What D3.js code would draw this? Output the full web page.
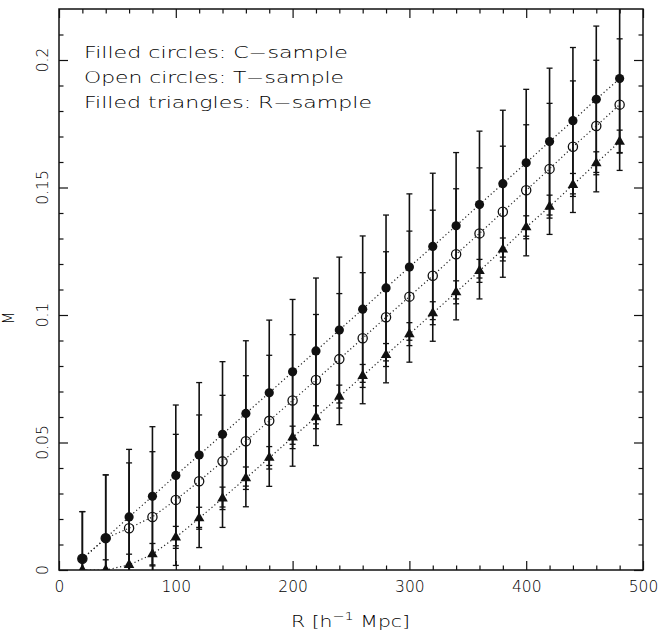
<!DOCTYPE html>
<html>
<head>
<meta charset="utf-8">
<script src="https://cdn.jsdelivr.net/npm/d3@7/dist/d3.min.js"></script>
<style>
  html, body { margin: 0; padding: 0; background: #fff; }
  svg { display: block; }
  text { font-family: "DejaVu Sans ExtraLight", "DejaVu Sans", sans-serif; font-weight: 200; fill: #000; }
</style>
</head>
<body>
<script>
// Radial distance R (h^-1 Mpc) at which each M value is measured
const radii = [20, 40, 60, 80, 100, 120, 140, 160, 180, 200, 220, 240,
               260, 280, 300, 320, 340, 360, 380, 400, 420, 440, 460, 480];

// C-sample (filled circles)
const cValues = [0.0044, 0.0125, 0.0208, 0.0289, 0.0371, 0.0451, 0.0532, 0.0614,
                 0.0695, 0.0777, 0.0859, 0.0941, 0.1023, 0.1106, 0.1188, 0.1269,
                 0.1350, 0.1433, 0.1515, 0.1597, 0.1680, 0.1762, 0.1846, 0.1927];
const cErrors = [0.0185, 0.0248, 0.0265, 0.0273, 0.0276, 0.0284, 0.0285, 0.0285,
                 0.0285, 0.0284, 0.0286, 0.0286, 0.0287, 0.0286, 0.0287, 0.0287,
                 0.0287, 0.0288, 0.0288, 0.0288, 0.0288, 0.0287, 0.0287, 0.0290];

// T-sample (open circles)
const tValues = [0.0044, 0.0125, 0.0164, 0.0208, 0.0275, 0.0348, 0.0426, 0.0505,
                 0.0585, 0.0665, 0.0745, 0.0827, 0.0909, 0.0991, 0.1072, 0.1154,
                 0.1238, 0.1320, 0.1405, 0.1489, 0.1573, 0.1660, 0.1741, 0.1825];
const tErrors = [0.0185, 0.0248, 0.0256, 0.0256, 0.0257, 0.0260, 0.0259, 0.0257,
                 0.0257, 0.0258, 0.0257, 0.0257, 0.0257, 0.0257, 0.0257, 0.0257,
                 0.0257, 0.0257, 0.0257, 0.0257, 0.0257, 0.0258, 0.0258, 0.0258];

// R-sample (filled triangles)
const rValues = [0.0000, 0.0000, 0.0020, 0.0062, 0.0128, 0.0203, 0.0281, 0.0360,
                 0.0440, 0.0520, 0.0599, 0.0680, 0.0761, 0.0843, 0.0925, 0.1007,
                 0.1089, 0.1173, 0.1257, 0.1344, 0.1425, 0.1510, 0.1595, 0.1680];
const rErrors = [0.0040, 0.0040, 0.0042, 0.0042, 0.0043, 0.0043, 0.0044, 0.0044,
                 0.0044, 0.0044, 0.0045, 0.0045, 0.0045, 0.0045, 0.0045, 0.0045,
                 0.0045, 0.0045, 0.0045, 0.0045, 0.0045, 0.0045, 0.0045, 0.0045];

// Axis ticks
const xMajorTicks = [0, 100, 200, 300, 400, 500];
const xMinorTicks = [20, 40, 60, 80, 120, 140, 160, 180, 220, 240, 260, 280,
                     320, 340, 360, 380, 420, 440, 460, 480];
const yMajorTicks = [0, 0.05, 0.1, 0.15, 0.2];
const yTickLabels = ["0", "0.05", "0.1", "0.15", "0.2"];
const yMinorTicks = [0.01, 0.02, 0.03, 0.04, 0.06, 0.07, 0.08, 0.09, 0.11, 0.12,
                     0.13, 0.14, 0.16, 0.17, 0.18, 0.19, 0.21];

const legendLines = ["Filled circles: C\u2212sample",
                     "Open circles: T\u2212sample",
                     "Filled triangles: R\u2212sample"];

const W = 662, H = 641;
const plot = { left: 59, right: 643, top: 9, bottom: 570 };

const svg = d3.select("body").append("svg")
  .attr("width", W).attr("height", H);

const x = d3.scaleLinear().domain([0, 500]).range([plot.left, plot.right]);
const y = d3.scaleLinear().domain([0, 0.22]).range([plot.bottom, plot.top]);

svg.append("clipPath").attr("id", "plotClip")
  .append("rect")
  .attr("x", plot.left).attr("y", plot.top)
  .attr("width", plot.right - plot.left).attr("height", plot.bottom - plot.top);

const samples = [
  { key: "C", values: cValues, errors: cErrors },
  { key: "T", values: tValues, errors: tErrors },
  { key: "R", values: rValues, errors: rErrors }
];

const data = samples.map(s => ({
  key: s.key,
  points: radii.map((r, i) => ({ r, v: s.values[i], e: s.errors[i] }))
}));

const g = svg.append("g").attr("clip-path", "url(#plotClip)");

// Error bars with end caps
const capHalf = 3;
data.forEach(s => {
  const bars = g.append("g").attr("class", "errors-" + s.key)
    .attr("stroke", "#111").attr("fill", "none");
  bars.selectAll("line.stem").data(s.points).join("line")
    .attr("class", "stem")
    .attr("x1", d => x(d.r)).attr("x2", d => x(d.r))
    .attr("y1", d => y(d.v - d.e)).attr("y2", d => y(d.v + d.e))
    .attr("stroke-width", 1.6);
  bars.selectAll("line.capTop").data(s.points).join("line")
    .attr("class", "capTop")
    .attr("x1", d => x(d.r) - capHalf).attr("x2", d => x(d.r) + capHalf)
    .attr("y1", d => y(d.v + d.e)).attr("y2", d => y(d.v + d.e))
    .attr("stroke-width", 1.3);
  bars.selectAll("line.capBot").data(s.points).join("line")
    .attr("class", "capBot")
    .attr("x1", d => x(d.r) - capHalf).attr("x2", d => x(d.r) + capHalf)
    .attr("y1", d => y(d.v - d.e)).attr("y2", d => y(d.v - d.e))
    .attr("stroke-width", 1.3);
});

// Dotted lines through each sample
const line = d3.line().x(d => x(d.r)).y(d => y(d.v));
data.forEach(s => {
  g.append("path").datum(s.points)
    .attr("d", line)
    .attr("fill", "none")
    .attr("stroke", "#222")
    .attr("stroke-width", 1.2)
    .attr("stroke-dasharray", "1.2 2.6");
});

// Markers
const cData = data[0].points, tData = data[1].points, rData = data[2].points;
g.append("g").selectAll("circle").data(cData).join("circle")
  .attr("cx", d => x(d.r)).attr("cy", d => y(d.v)).attr("r", 4.6)
  .attr("fill", "#111");
g.append("g").selectAll("circle").data(tData).join("circle")
  .attr("cx", d => x(d.r)).attr("cy", d => y(d.v)).attr("r", 4.6)
  .attr("fill", "none").attr("stroke", "#111").attr("stroke-width", 1.3);
const tri = d3.symbol().type(d3.symbolTriangle).size(48);
g.append("g").selectAll("path").data(rData).join("path")
  .attr("transform", d => `translate(${x(d.r)},${y(d.v)})`)
  .attr("d", tri)
  .attr("fill", "#111");

// Axes: ticks drawn inward on all four sides
function styleAxis(sel) {
  sel.select(".domain").remove();
  sel.selectAll(".tick line").attr("stroke", "#111").attr("stroke-width", 1.2);
}
const major = 9, minor = 4.5;

svg.append("g").attr("transform", `translate(0,${plot.bottom})`)
  .call(d3.axisBottom(x).tickValues(xMajorTicks).tickSize(-major).tickPadding(11)
        .tickFormat(d3.format("d")))
  .call(styleAxis)
  .call(s => s.selectAll("text").attr("font-size", 15.5).attr("fill", "#000")
        .attr("font-family", null));
svg.append("g").attr("transform", `translate(0,${plot.bottom})`)
  .call(d3.axisBottom(x).tickValues(xMinorTicks).tickSize(-minor).tickFormat(""))
  .call(styleAxis);
svg.append("g").attr("transform", `translate(0,${plot.top})`)
  .call(d3.axisTop(x).tickValues(xMajorTicks).tickSize(-major).tickFormat(""))
  .call(styleAxis);
svg.append("g").attr("transform", `translate(0,${plot.top})`)
  .call(d3.axisTop(x).tickValues(xMinorTicks).tickSize(-minor).tickFormat(""))
  .call(styleAxis);
svg.append("g").attr("transform", `translate(${plot.left},0)`)
  .call(d3.axisLeft(y).tickValues(yMajorTicks).tickSize(-major).tickFormat(""))
  .call(styleAxis);
svg.append("g").attr("transform", `translate(${plot.left},0)`)
  .call(d3.axisLeft(y).tickValues(yMinorTicks).tickSize(-minor).tickFormat(""))
  .call(styleAxis);
svg.append("g").attr("transform", `translate(${plot.right},0)`)
  .call(d3.axisRight(y).tickValues(yMajorTicks).tickSize(-major).tickFormat(""))
  .call(styleAxis);
svg.append("g").attr("transform", `translate(${plot.right},0)`)
  .call(d3.axisRight(y).tickValues(yMinorTicks).tickSize(-minor).tickFormat(""))
  .call(styleAxis);

// Rotated y tick labels
svg.append("g").selectAll("text").data(yMajorTicks).join("text")
  .attr("transform", d => `translate(48,${y(d)}) rotate(-90)`)
  .attr("text-anchor", "middle")
  .attr("font-size", 15.5)
  .text((d, i) => yTickLabels[i]);

// Frame
svg.append("rect")
  .attr("x", plot.left).attr("y", plot.top)
  .attr("width", plot.right - plot.left).attr("height", plot.bottom - plot.top)
  .attr("fill", "none").attr("stroke", "#111").attr("stroke-width", 1.5);

// Axis titles
const xTitle = svg.append("text")
  .attr("x", 291).attr("y", 627)
  .attr("font-size", 15.5)
  .attr("textLength", 119).attr("lengthAdjust", "spacingAndGlyphs");
xTitle.append("tspan").text("R [h");
xTitle.append("tspan").attr("dy", -7).attr("font-size", 11).text("\u22121");
xTitle.append("tspan").attr("dy", 7).text(" Mpc]");

svg.append("text")
  .attr("transform", `translate(14,318) rotate(-90)`)
  .attr("text-anchor", "middle")
  .attr("font-size", 15)
  .text("M");

// Sample key
const legendWidths = [264, 260, 288];
svg.append("g").selectAll("text").data(legendLines).join("text")
  .attr("x", 84)
  .attr("y", (d, i) => 57.5 + i * 25.2)
  .attr("font-size", 15.5)
  .attr("textLength", (d, i) => legendWidths[i])
  .attr("lengthAdjust", "spacingAndGlyphs")
  .text(d => d);
</script>
</body>
</html>
